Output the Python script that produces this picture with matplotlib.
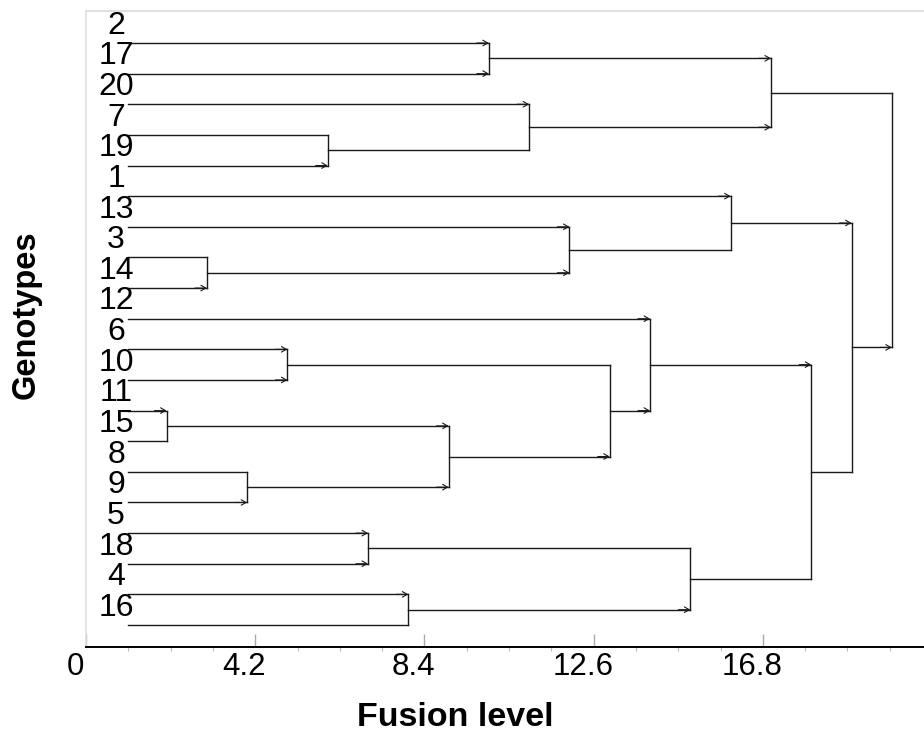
import numpy as np
import matplotlib
matplotlib.use('Agg')
import matplotlib.pyplot as plt
from matplotlib.transforms import ScaledTranslation

plt.rcParams['font.family'] = ['Liberation Sans', 'DejaVu Sans']

# leaves, top to bottom
labels = ['2', '17', '20', '7', '19', '1', '13', '3', '14', '12',
          '6', '10', '11', '15', '8', '9', '5', '18', '4', '16']

# merges: new cluster ids start at 20 (leaf ids 0..19)
merge_a = [0, 3, 2, 20, 7, 6, 5, 10, 12, 14, 28, 27, 9, 16, 18, 33, 32, 26, 23]
merge_b = [1, 4, 21, 22, 8, 24, 25, 11, 13, 15, 29, 30, 31, 17, 19, 34, 35, 36, 37]
fusion = [10, 6, 11, 17, 3, 12, 16, 5, 2, 4, 9, 13, 14, 7, 8, 15, 18, 19, 20]

# which branch ends carry a small arrow head
arrow_a = [1, 0, 1, 1, 0, 1, 1, 1, 1, 0, 1, 0, 1, 1, 1, 0, 1, 1, 0]
arrow_b = [1, 1, 0, 1, 1, 1, 0, 1, 0, 1, 1, 1, 1, 1, 0, 1, 0, 0, 1]

xticks = [0, 4.2, 8.4, 12.6, 16.8]
xtick_labels = ['0', '4.2', '8.4', '12.6', '16.8']

LEAF_X = 1.05
line_col = '#1a1a1a'

fig = plt.figure(figsize=(9.24, 7.34), dpi=100)
ax = fig.add_axes([86 / 924, 87 / 734, 838 / 924, 636 / 734])

n = len(labels)
node_x = [LEAF_X] * n
node_y = list(range(n))


def arrow_head(x, y):
    ax.annotate('', xy=(x, y), xytext=(x - 0.3, y),
                arrowprops=dict(arrowstyle='->,head_length=0.35,head_width=0.2',
                                lw=0.8, color=line_col, shrinkA=0, shrinkB=0))


for a, b, h, fa, fb in zip(merge_a, merge_b, fusion, arrow_a, arrow_b):
    ya, yb = node_y[a], node_y[b]
    ax.plot([node_x[a], h], [ya, ya], color=line_col, lw=1.0)
    ax.plot([node_x[b], h], [yb, yb], color=line_col, lw=1.0)
    ax.plot([h, h], [ya, yb], color=line_col, lw=1.0)
    if fa:
        arrow_head(h, ya)
    if fb:
        arrow_head(h, yb)
    node_x.append(h)
    node_y.append((ya + yb) / 2)

for i, lab in enumerate(labels):
    ax.text(0.745, i - 0.3, lab, ha='center', va='baseline', fontsize=23)

ax.set_xlim(0, 838 / 40.29)
ax.set_ylim(19 + 22 / 30.63, -32 / 30.63)
ax.set_yticks([])

ax.set_xticks(xticks)
ax.set_xticklabels(xtick_labels, fontsize=22.5)
ax.set_xticks(np.arange(0, 20.5, 1.05), minor=True)
ax.tick_params(axis='x', which='major', direction='in', length=9.5, width=1.0,
               color='#aaaaaa', pad=3.5)
ax.tick_params(axis='x', which='minor', direction='out', length=3, width=0.8,
               color='#bbbbbb')
shift = ScaledTranslation(-11 / 100, 0, fig.dpi_scale_trans)
for t in ax.get_xticklabels():
    t.set_transform(t.get_transform() + shift)

ax.spines['bottom'].set_color('black')
ax.spines['bottom'].set_linewidth(1.4)
ax.spines['top'].set_color('#e0e0e0')
ax.spines['top'].set_linewidth(1.4)
ax.spines['left'].set_color('#e0e0e0')
ax.spines['left'].set_linewidth(1.2)
ax.spines['right'].set_visible(False)

fig.text(455.5 / 924, 1 - 726 / 734, 'Fusion level', ha='center', va='baseline',
         fontsize=24.5, fontweight='bold')
fig.text(35 / 924, 1 - 315 / 734, 'Genotypes', rotation=90, rotation_mode='anchor',
         ha='center', va='baseline', fontsize=23.5, fontweight='bold')

fig.savefig('out.png', dpi=100)
